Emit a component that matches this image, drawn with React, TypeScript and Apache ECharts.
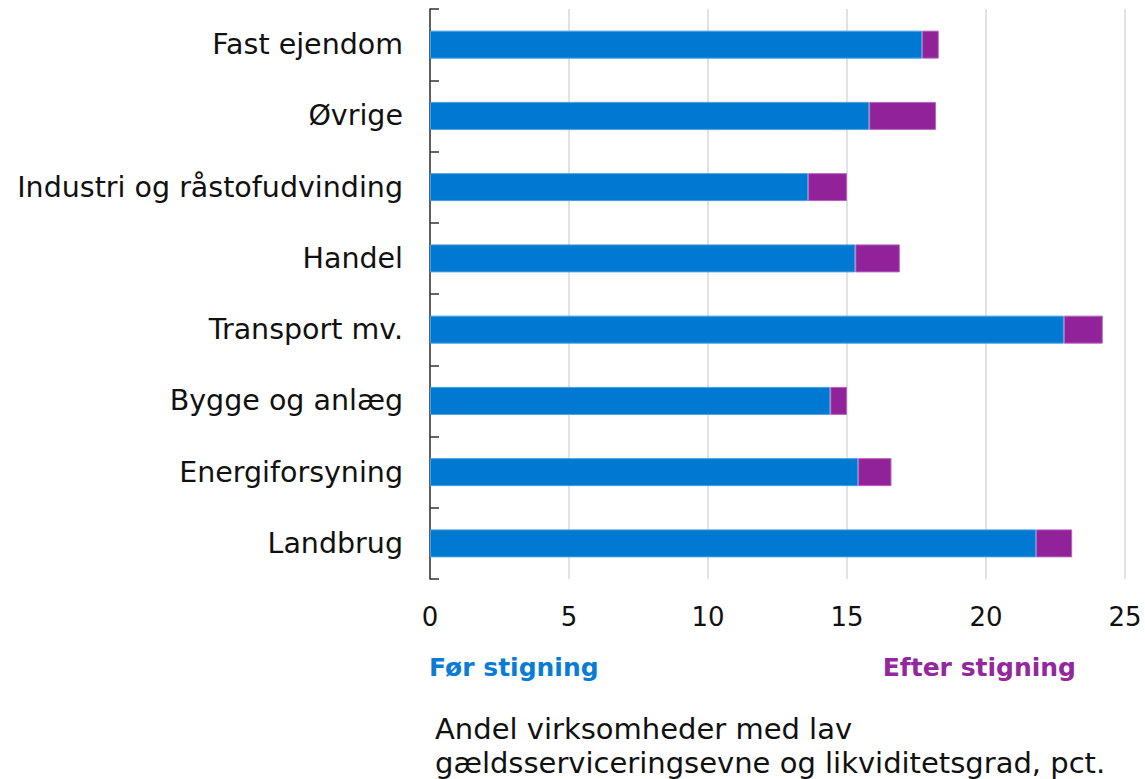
import React, { useEffect, useRef } from "react";
import * as echarts from "echarts";

const categories = [
  "Fast ejendom",
  "Øvrige",
  "Industri og råstofudvinding",
  "Handel",
  "Transport mv.",
  "Bygge og anlæg",
  "Energiforsyning",
  "Landbrug",
];
const beforeValues = [17.7, 15.8, 13.6, 15.3, 22.8, 14.4, 15.4, 21.8];
const increaseValues = [0.6, 2.4, 1.4, 1.6, 1.4, 0.6, 1.2, 1.3];
const xTicks = [0, 5, 10, 15, 20, 25];
const legendBefore = "Før stigning";
const legendAfter = "Efter stigning";
const captionLines = [
  "Andel virksomheder med lav",
  "gældsserviceringsevne og likviditetsgrad, pct.",
];

const FONT = "DejaVu Sans";
const BLUE = "#0079D2";
const PURPLE = "#92229A";

export default function App() {
  const ref = useRef<HTMLDivElement>(null);
  useEffect(() => {
    document.body.style.margin = "0";
    if (!ref.current) return;
    const chart = echarts.init(ref.current, null, { renderer: "svg" });
    chart.setOption({
      animation: false,
      textStyle: { fontFamily: FONT },
      grid: { left: 430, right: 20, top: 9, bottom: 200, containLabel: false },
      xAxis: {
        type: "value",
        min: xTicks[0],
        max: xTicks[xTicks.length - 1],
        interval: 5,
        axisLine: { show: false },
        axisTick: { show: false },
        splitLine: { show: true, lineStyle: { color: "#d9d9d9", width: 1.5 } },
        axisLabel: { color: "#111", fontSize: 26, margin: 25, fontFamily: FONT },
      },
      yAxis: {
        type: "category",
        inverse: true,
        data: categories,
        axisLine: { show: true, lineStyle: { color: "#333", width: 1.5 } },
        axisTick: { show: true, inside: true, length: 9, lineStyle: { color: "#333", width: 1.5 } },
        axisLabel: { color: "#111", fontSize: 28.5, margin: 27, fontFamily: FONT },
      },
      series: [
        {
          name: legendBefore,
          type: "bar",
          stack: "a",
          data: beforeValues,
          barWidth: 28,
          itemStyle: { color: BLUE, borderColor: "#4a9fe0", borderWidth: 1 },
        },
        {
          name: legendAfter,
          type: "bar",
          stack: "a",
          data: increaseValues,
          barWidth: 28,
          itemStyle: { color: PURPLE, borderColor: "#b565bb", borderWidth: 1 },
        },
      ],
      graphic: [
        {
          type: "text",
          left: 429,
          top: 655,
          style: { text: legendBefore, fill: "#0A7CD6", font: `bold 25px "${FONT}"` },
        },
        {
          type: "text",
          right: 69,
          top: 655,
          style: { text: legendAfter, fill: "#93279E", font: `bold 25px "${FONT}"` },
        },
        {
          type: "text",
          left: 435,
          top: 714,
          style: { text: captionLines[0], fill: "#111", font: `29px "${FONT}"` },
        },
        {
          type: "text",
          left: 435,
          top: 748,
          style: { text: captionLines[1], fill: "#111", font: `29px "${FONT}"` },
        },
      ],
    });
    return () => chart.dispose();
  }, []);
  return <div ref={ref} style={{ width: 1145, height: 779 }} />;
}
